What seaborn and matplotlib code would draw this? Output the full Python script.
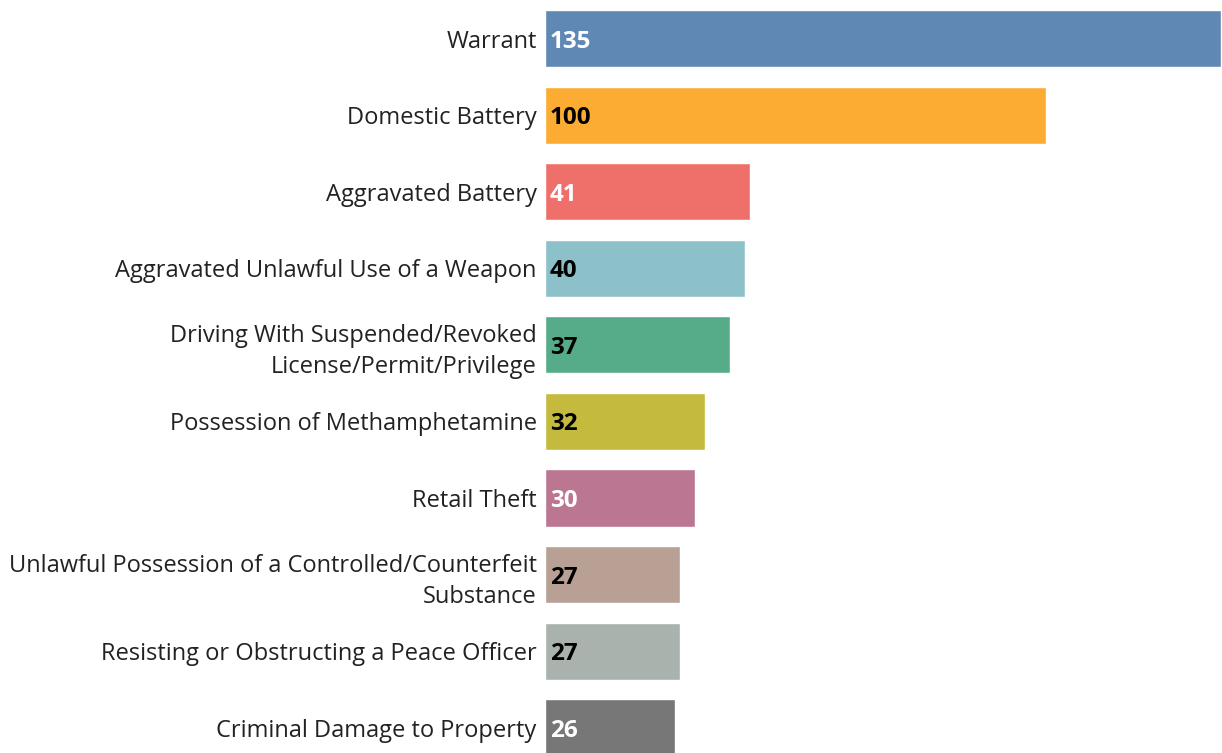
import numpy as np
import pandas as pd
import matplotlib
matplotlib.use("Agg")
import matplotlib.pyplot as plt
import seaborn as sns

# 数据
categories = [
    "Warrant",
    "Domestic Battery",
    "Aggravated Battery",
    "Aggravated Unlawful Use of a Weapon",
    "Driving With Suspended/Revoked\nLicense/Permit/Privilege",
    "Possession of Methamphetamine",
    "Retail Theft",
    "Unlawful Possession of a Controlled/Counterfeit\nSubstance",
    "Resisting or Obstructing a Peace Officer",
    "Criminal Damage to Property",
]
counts = [135, 100, 41, 40, 37, 32, 30, 27, 27, 26]
bar_colors = ["#6088b4", "#fdac33", "#ef706a", "#8cc1c9", "#56ac88",
              "#c4bb3e", "#bb7691", "#b9a094", "#a9b2ad", "#777777"]
label_colors = ["white", "black", "white", "black", "black",
                "black", "white", "black", "black", "white"]

df = pd.DataFrame({"offense": categories, "count": counts})

sns.set_style("white")
plt.rcParams['font.family'] = ['Open Sans', 'DejaVu Sans']

fig = plt.figure(figsize=(12.22, 7.53), dpi=100)
ax = fig.add_axes([545 / 1222, 0, (1221 - 545) / 1222, 1])

sns.barplot(data=df, y="offense", x="count", hue="offense",
            palette=bar_colors, orient="h", width=0.745,
            legend=False, ax=ax, saturation=1)

# 数值标签
for i, (v, c) in enumerate(zip(counts, label_colors)):
    ax.annotate(str(v), xy=(0, i), xytext=(3.5, 0), textcoords="offset points",
                va="center_baseline", ha="left", fontsize=17.5,
                fontweight="bold", color=c)

ax.set_xlim(0, 135)
ax.set_ylim(9.33, -0.503)
ax.set_xlabel("")
ax.set_ylabel("")
ax.set_xticks([])
ax.tick_params(axis="y", length=0, pad=6, labelsize=17, labelcolor="#222222")
for lbl in ax.get_yticklabels():
    lbl.set_linespacing(1.42)
    lbl.set_horizontalalignment("right")
    lbl.set_multialignment("right")
sns.despine(left=True, bottom=True)

fig.savefig("out.png", dpi=100)
